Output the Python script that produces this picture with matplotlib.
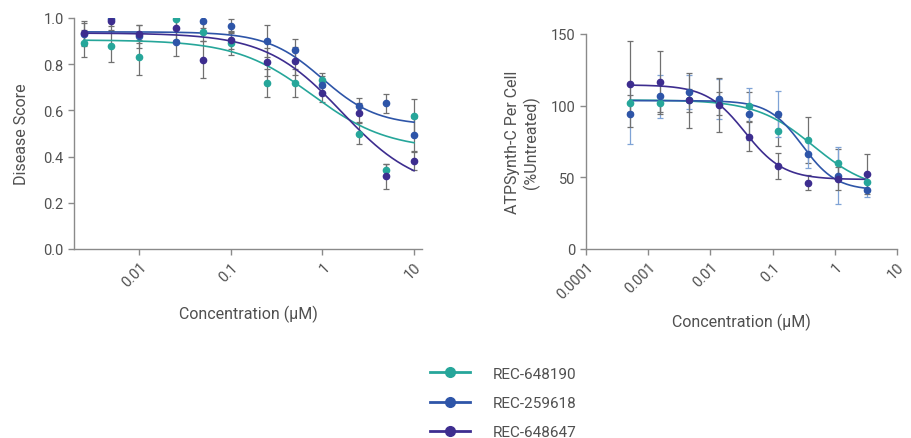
import numpy as np
import matplotlib
matplotlib.use("Agg")
import matplotlib.pyplot as plt
from matplotlib.lines import Line2D

plt.rcParams['font.family'] = ['Roboto', 'DejaVu Sans']

# ---------------- data ----------------
series_names = ["REC-648190", "REC-259618", "REC-648647"]
colors = ["#26a69a", "#2e55a8", "#3d2d8f"]

# Left panel: Disease Score
conc_left = [0.0025, 0.005, 0.01, 0.025, 0.05, 0.1, 0.25, 0.5, 1, 2.5, 5, 10]
teal_left = [0.89, 0.88, 0.83, 0.995, 0.94, 0.89, 0.72, 0.72, 0.73, 0.50, 0.34, 0.575]
teal_left_err = [0.06, 0.07, 0.075, 0.04, 0.04, 0.05, 0.06, 0.06, 0.03, 0.045, 0.03, 0.075]
blue_left = [0.93, 0.995, 0.92, 0.895, 0.985, 0.965, 0.90, 0.86, 0.71, 0.62, 0.63, 0.495]
blue_left_err = [0.05, 0.03, 0.05, 0.06, 0.03, 0.03, 0.07, 0.05, 0.04, 0.035, 0.04, 0.07]
purple_left = [0.935, 0.985, 0.93, 0.955, 0.82, 0.905, 0.81, 0.815, 0.675, 0.59, 0.315, 0.38]
purple_left_err = [0.05, 0.04, 0.04, 0.05, 0.08, 0.04, 0.06, 0.06, 0.04, 0.04, 0.055, 0.04]
# 4PL fit parameters (top, bottom, IC50, hill)
fit_left = [(0.905, 0.43, 0.77, 1.05), (0.94, 0.535, 1.0, 1.45), (0.935, 0.25, 1.63, 1.05)]

# Right panel: ATPSynth-C per cell
conc_right = [0.000508, 0.00152, 0.00457, 0.0137, 0.0412, 0.123, 0.37, 1.11, 3.33]
teal_right = [101.6, 101.6, 103.7, 101.6, 99.5, 82.1, 76.3, 59.8, 46.5]
teal_right_err = [6, 6, 8, 8, 10, 10, 16, 10, 6]
blue_right = [94, 106.5, 109.5, 104.7, 94.2, 94, 66.3, 51.2, 41.4]
blue_right_err = [21, 15, 12, 14, 18, 16, 10, 20, 5]
purple_right = [115, 116.3, 103.7, 100.5, 78.4, 58.1, 46.3, 49, 52.1]
purple_right_err = [30, 22, 19, 19, 10, 9, 5, 8, 14]
fit_right = [(104, 40, 0.45, 0.95), (103.5, 41, 0.3, 1.6), (114.5, 48.5, 0.036, 1.4)]

left_yticks = [0.0, 0.2, 0.4, 0.6, 0.8, 1.0]
left_xticks = [0.01, 0.1, 1, 10]
left_xticklabels = ["0.01", "0.1", "1", "10"]
right_yticks = [0, 50, 100, 150]
right_xticks = [0.0001, 0.001, 0.01, 0.1, 1, 10]
right_xticklabels = ["0.0001", "0.001", "0.01", "0.1", "1", "10"]


def four_pl(x, top, bottom, ic50, hill):
    return bottom + (top - bottom) / (1 + (x / ic50) ** hill)


fig = plt.figure(figsize=(9.11, 4.39), dpi=100)
axL = fig.add_axes([74 / 911, 1 - 250 / 439, (422 - 74) / 911, (250 - 19) / 439])
axR = fig.add_axes([586 / 911, 1 - 250 / 439, (897 - 586) / 911, (250 - 35) / 439])

text_col = "#505050"
spine_col = "#8a8a8a"
err_gray = "#707070"
err_lightblue = "#7fa3d6"


def style(ax):
    for s in ["top", "right"]:
        ax.spines[s].set_visible(False)
    for s in ["left", "bottom"]:
        ax.spines[s].set_color(spine_col)
        ax.spines[s].set_linewidth(1.0)
    ax.tick_params(axis="both", colors=spine_col, labelcolor=text_col,
                   labelsize=10.5, length=4, width=1.0)
    ax.minorticks_off()


lefts = [(teal_left, teal_left_err), (blue_left, blue_left_err), (purple_left, purple_left_err)]
rights = [(teal_right, teal_right_err), (blue_right, blue_right_err), (purple_right, purple_right_err)]

# Left panel
axL.set_xscale("log")
xs = np.logspace(np.log10(conc_left[0]), np.log10(conc_left[-1]), 300)
for (y, e), p, c in zip(lefts, fit_left, colors):
    axL.errorbar(conc_left, y, yerr=e, fmt="none", ecolor=err_gray, elinewidth=0.9,
                 capsize=2.5, capthick=0.9, zorder=2)
for (y, e), p, c in zip(lefts, fit_left, colors):
    axL.plot(xs, four_pl(xs, *p), color=c, lw=1.2, zorder=3)
    axL.plot(conc_left, y, "o", color=c, ms=4.5, zorder=4)
axL.set_xlim(10 ** -2.71, 10 ** 1.087)
axL.set_ylim(0, 1.0)
axL.set_yticks(left_yticks)
axL.set_yticklabels([f"{v:.1f}" for v in left_yticks])
axL.set_xticks(left_xticks)
axL.set_xticklabels(left_xticklabels, rotation=45, ha="right", va="top", rotation_mode="anchor")
style(axL)
axL.set_ylabel("Disease Score", fontsize=11.5, color=text_col, labelpad=10)
axL.set_xlabel("Concentration (µM)", fontsize=11.5, color=text_col, labelpad=11)

# Right panel
axR.set_xscale("log")
xs = np.logspace(np.log10(conc_right[0]), np.log10(conc_right[-1]), 300)
ecs = [err_gray, err_lightblue, err_gray]
for (y, e), p, c, ec in zip(rights, fit_right, colors, ecs):
    axR.errorbar(conc_right, y, yerr=e, fmt="none", ecolor=ec, elinewidth=0.9,
                 capsize=2.5, capthick=0.9, zorder=2)
for (y, e), p, c in zip(rights, fit_right, colors):
    axR.plot(xs, four_pl(xs, *p), color=c, lw=1.2, zorder=3)
    axR.plot(conc_right, y, "o", color=c, ms=4.5, zorder=4)
axR.set_xlim(1e-4, 10)
axR.set_ylim(0, 150)
axR.set_yticks(right_yticks)
axR.set_xticks(right_xticks)
axR.set_xticklabels(right_xticklabels, rotation=45, ha="right", va="top", rotation_mode="anchor")
style(axR)
axR.set_ylabel("ATPSynth-C Per Cell\n(%Untreated)", fontsize=11.5, color=text_col, labelpad=8)
axR.set_xlabel("Concentration (µM)", fontsize=11.5, color=text_col, labelpad=8)

# Legend
handles = [Line2D([0], [0], color=c, lw=2, marker="o", ms=7) for c in colors]
fig.legend(handles, series_names, loc="center left", bbox_to_anchor=(424 / 911, 1 - 404 / 439),
           borderaxespad=0, frameon=False, fontsize=11, handlelength=2.6, handletextpad=1.5,
           labelspacing=1.0, labelcolor=text_col)

fig.savefig("out.png", dpi=100)
